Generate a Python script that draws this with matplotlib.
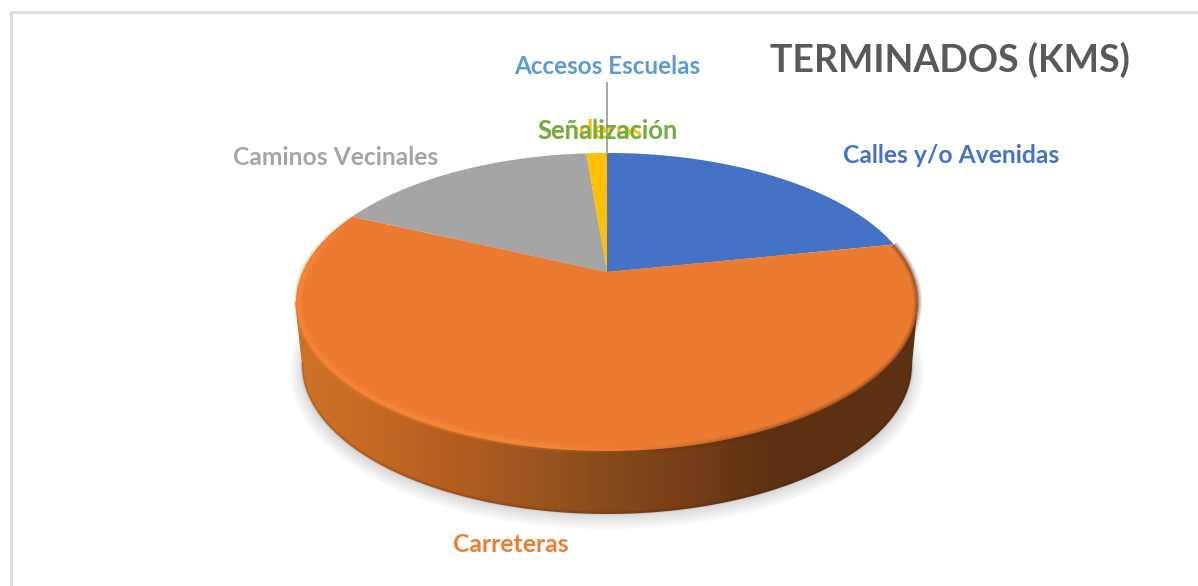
import numpy as np
from matplotlib import pyplot as plt
from matplotlib.collections import LineCollection
from matplotlib.colors import LinearSegmentedColormap
from matplotlib.patches import Ellipse, PathPatch, Polygon
from matplotlib.path import Path

plt.rcParams['font.family'] = ['Lato', 'DejaVu Sans']

title = 'TERMINADOS (KMS)'
categories = ['Calles y/o Avenidas', 'Carreteras', 'Caminos Vecinales', 'Senderos', 'Accesos Escuelas', 'Señalización']
values = [21.8, 60.1, 16.8, 1.3, 0.0, 0.0]
colors = ['#4472c4', '#ed7d31', '#a5a5a5', '#ffc000', '#5b9bd5', '#70ad47']

# label anchors in picture pixels (left x, baseline y)
label_pos = [(843, 163), (453, 552), (233, 165), (537, 139), (514, 74), (537, 139)]
label_size = [17.7, 17.8, 17.7, 18.4, 17.5, 18.4]

# pie geometry in picture pixels
cx, apex_y = 607, 272
A, B, k = 304.6, 143.0, 0.2013
top_ell = (606.5, 302, 311.5, 149)
low_ell = (607, 365, 305, 149)


def project(theta):
    # theta clockwise from 12 o'clock, tilted view of the unit circle
    u, v = np.sin(theta), np.cos(theta)
    d = 1 + k * v
    return cx + A * u / d, apex_y - B * v / d


def ell_pts(ell, t):
    return ell[0] + ell[2] * np.cos(t), ell[1] + ell[3] * np.sin(t)


def segs(x, y):
    p = np.column_stack([x, y]).reshape(-1, 1, 2)
    return np.concatenate([p[:-1], p[1:]], axis=1)


def rgba(col, alpha):
    out = np.zeros((len(alpha), 4))
    out[:, :3] = np.array(col) / 255
    out[:, 3] = alpha
    return out


fig = plt.figure(figsize=(11.98, 5.86), dpi=100)
ax = fig.add_axes((0, 0, 1, 1))
ax.axis('off')

# chart frame, only top and left fall inside the crop
ax.plot([10.5, 10.5, 1198], [586, 11.5, 11.5], color='#dcdcdc', lw=2.0, zorder=1)

# soft shadow
for i in range(14):
    ax.add_patch(Ellipse((607, 372), 2 * (318 - i * 1.3), 2 * (158 - i * 1.3),
                         fc='black', ec='none', alpha=0.013, zorder=2))

# side band with horizontal gradient
t_low = np.linspace(0, np.pi, 200)
lx, ly = ell_pts(low_ell, t_low)
side_pts = np.vstack([[top_ell[0] + top_ell[2], top_ell[1]],
                      np.column_stack([lx, ly]),
                      [top_ell[0] - top_ell[2], top_ell[1]],
                      [top_ell[0] + top_ell[2], top_ell[1]]])
side_clip = PathPatch(Path(side_pts), transform=ax.transData, fc='none', ec='none')
ax.add_patch(side_clip)
side_cmap = LinearSegmentedColormap.from_list('side', [
    (0.0, '#cf7229'), (0.10, '#c76c26'), (0.24, '#b65f21'), (0.48, '#8b4c1c'),
    (0.66, '#723b17'), (0.76, '#5e3112'), (1.0, '#5c3012')])
grad = np.linspace(0, 1, 620)[None, :]
img = ax.imshow(grad, cmap=side_cmap, extent=(295, 918, 520, 295), aspect='auto', zorder=3)
img.set_clip_path(side_clip)

# darker lower edge of the band
for lw, al in [(3, 0.06), (1.5, 0.12)]:
    ax.plot(lx, ly - 1, color='#3a1c08', lw=lw, alpha=al, zorder=4)

# top slices, built from the values
edges = np.cumsum([0] + values) / sum(values) * 2 * np.pi
for v, c, a0, a1 in zip(values, colors, edges[:-1], edges[1:]):
    if v == 0:
        continue
    th = np.linspace(a0, a1, 300)
    x, y = project(th)
    face = '#eb7b31' if c == '#ed7d31' else c
    ax.add_patch(Polygon(np.column_stack([np.r_[cx, x], np.r_[apex_y, y]]),
                         closed=True, fc=face, ec='none', zorder=5))

# bevel on the orange slice: highlight on the left, dark blur on the right
th = np.linspace(edges[1], edges[2], 700)
ox, oy = project(th)

inx = top_ell[0] + (ox - top_ell[0]) * 0.992
iny = top_ell[1] + (oy - top_ell[1]) * 0.985
hi = (np.clip((650 - inx) / 130, 0, 1) * np.clip((edges[2] - th) / 0.35, 0, 1))[:-1]
for lw, al in [(7, 0.12), (5, 0.22), (3, 0.35)]:
    ax.add_collection(LineCollection(segs(inx, iny), colors=rgba((255, 142, 58), hi * al),
                                     linewidths=lw, zorder=6))

dk = np.clip((ox - 640) / 200, 0, 1)[:-1]
for lw, al in [(6, 0.12), (4, 0.18), (2, 0.3)]:
    ax.add_collection(LineCollection(segs(ox, oy), colors=rgba((92, 48, 18), dk * al),
                                     linewidths=lw, zorder=6))

# leader line of the zero slice
ax.plot([607, 607], [83, 153], color='#a6a6a6', lw=1.4, zorder=5)

for name, c, (px, py), fs in zip(categories, colors, label_pos, label_size):
    ax.text(px, py, name, color=c, fontsize=fs, fontweight='bold', ha='left', va='baseline', zorder=8)

ax.text(770, 72, title, color='#595959', fontsize=27, fontweight='bold', ha='left', va='baseline', zorder=8)

ax.set_xlim(0, 1198)
ax.set_ylim(586, 0)
fig.savefig('out.png', dpi=100, facecolor='white')
